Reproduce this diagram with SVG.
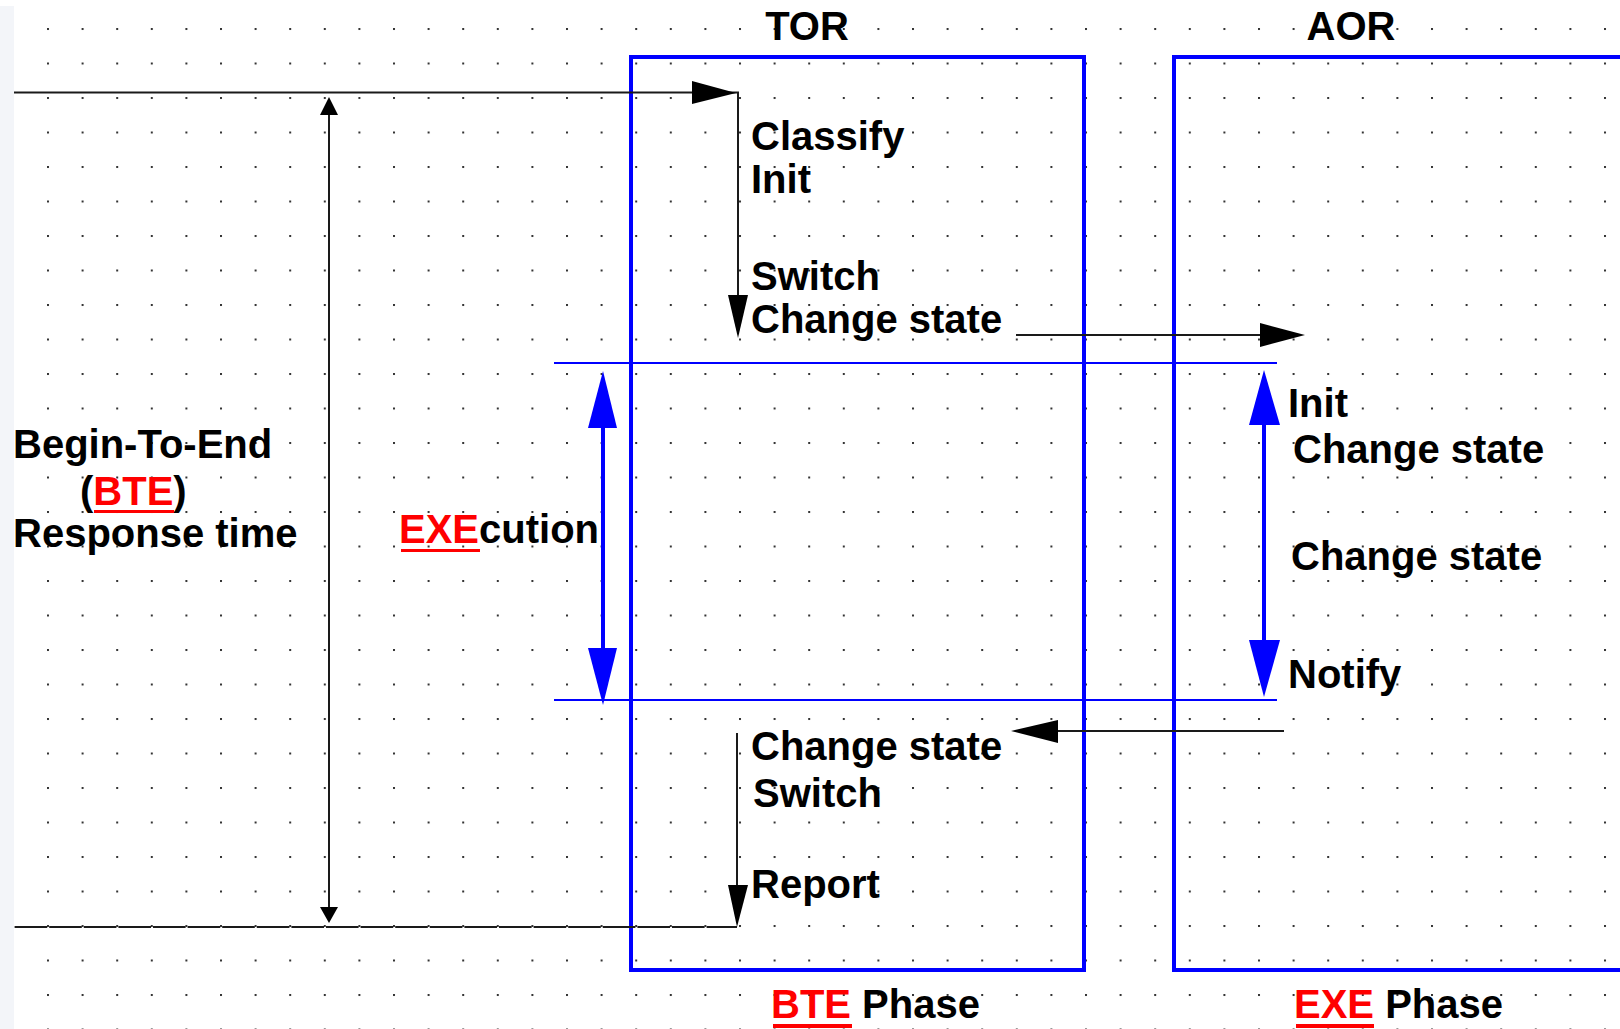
<svg xmlns="http://www.w3.org/2000/svg" width="1620" height="1029" viewBox="0 0 1620 1029">
<defs>
<pattern id="dots" patternUnits="userSpaceOnUse" x="47" y="28" width="34.6" height="34.5">
<rect x="0" y="0" width="2" height="2" fill="#333"/>
</pattern>
</defs>
<style>
text{font-family:"Liberation Sans",Arial,sans-serif;font-weight:bold;font-size:40px;fill:#000}
.red{fill:#ff0000}
.ul{fill:#ff0000}
.box{fill:none;stroke:#0000ff;stroke-width:4}
.bl{stroke:#0000ff;stroke-width:2;fill:none}
.bs{stroke:#0000ff;stroke-width:4;fill:none}
.bh{fill:#0000ff}
.k{stroke:#1a1a1a;stroke-width:2;fill:none}
.kh{fill:#000}
</style>
<rect width="1620" height="1029" fill="#fff"/>
<rect x="0" y="6" width="14" height="1023" fill="#f3f5f9"/>
<rect x="20" y="10" width="1600" height="1019" fill="url(#dots)"/>

<g id="tor-box">
<rect class="box" x="631" y="57" width="453" height="913"/>
<text x="807" y="40" text-anchor="middle">TOR</text>
<text x="751" y="150">Classify</text>
<text x="751" y="193">Init</text>
<text x="751" y="290">Switch</text>
<text x="751" y="333">Change state</text>
<text x="751" y="760">Change state</text>
<text x="753" y="807">Switch</text>
<text x="751" y="898">Report</text>
</g>

<g id="aor-box">
<path class="box" d="M1624,57 H1174 V970 H1624"/>
<text x="1351" y="40" text-anchor="middle">AOR</text>
<text x="1288" y="417">Init</text>
<text x="1293" y="463">Change state</text>
<text x="1291" y="570">Change state</text>
<text x="1288" y="688">Notify</text>
</g>

<g id="bte-label">
<text x="13" y="458">Begin-To-End</text>
<text x="80" y="505">(<tspan class="red">BTE</tspan>)</text>
<rect class="ul" x="94" y="510" width="80" height="3"/>
<text x="13" y="547">Response time</text>
</g>

<g id="exe-label">
<text x="399" y="543"><tspan class="red">EXE</tspan>cution</text>
<rect class="ul" x="401" y="549" width="79" height="3"/>
</g>

<g id="phase-labels">
<text x="771" y="1018"><tspan class="red">BTE</tspan> Phase</text>
<rect class="ul" x="773" y="1024" width="79" height="4"/>
<text x="1294" y="1018"><tspan class="red">EXE</tspan> Phase</text>
<rect class="ul" x="1296" y="1024" width="78" height="4"/>
</g>

<g id="connectors">
<line class="bl" x1="554" y1="363" x2="1277" y2="363"/>
<line class="bl" x1="554" y1="700" x2="1277" y2="700"/>

<path class="k" d="M14,92.5 H738 V300"/>
<polygon class="kh" points="692,81 736,93 692,104"/>
<polygon class="kh" points="728,295 748,295 738,338"/>

<line class="k" x1="1016" y1="335" x2="1262" y2="335"/>
<polygon class="kh" points="1260,323 1305,335 1260,347"/>

<line class="k" x1="1284" y1="731" x2="1055" y2="731"/>
<polygon class="kh" points="1058,720 1011,731 1058,743"/>

<line class="k" x1="737" y1="733" x2="737" y2="890"/>
<polygon class="kh" points="728,885 748,885 737,927"/>
<line class="k" x1="14.6" y1="927" x2="737" y2="927" stroke-dasharray="32.6 2"/>

<line class="k" x1="329" y1="112" x2="329" y2="910"/>
<polygon class="kh" points="329,97 338,115 320,115"/>
<polygon class="kh" points="329,923 338,907 320,907"/>

<line class="bs" x1="603" y1="420" x2="603" y2="655"/>
<polygon class="bh" points="603,371 617,428 588,428"/>
<polygon class="bh" points="603,705 617,648 588,648"/>
<line class="bs" x1="1264" y1="420" x2="1264" y2="645"/>
<polygon class="bh" points="1264,370 1280,425 1249,425"/>
<polygon class="bh" points="1264,697 1280,640 1249,640"/>
</g>
</svg>
